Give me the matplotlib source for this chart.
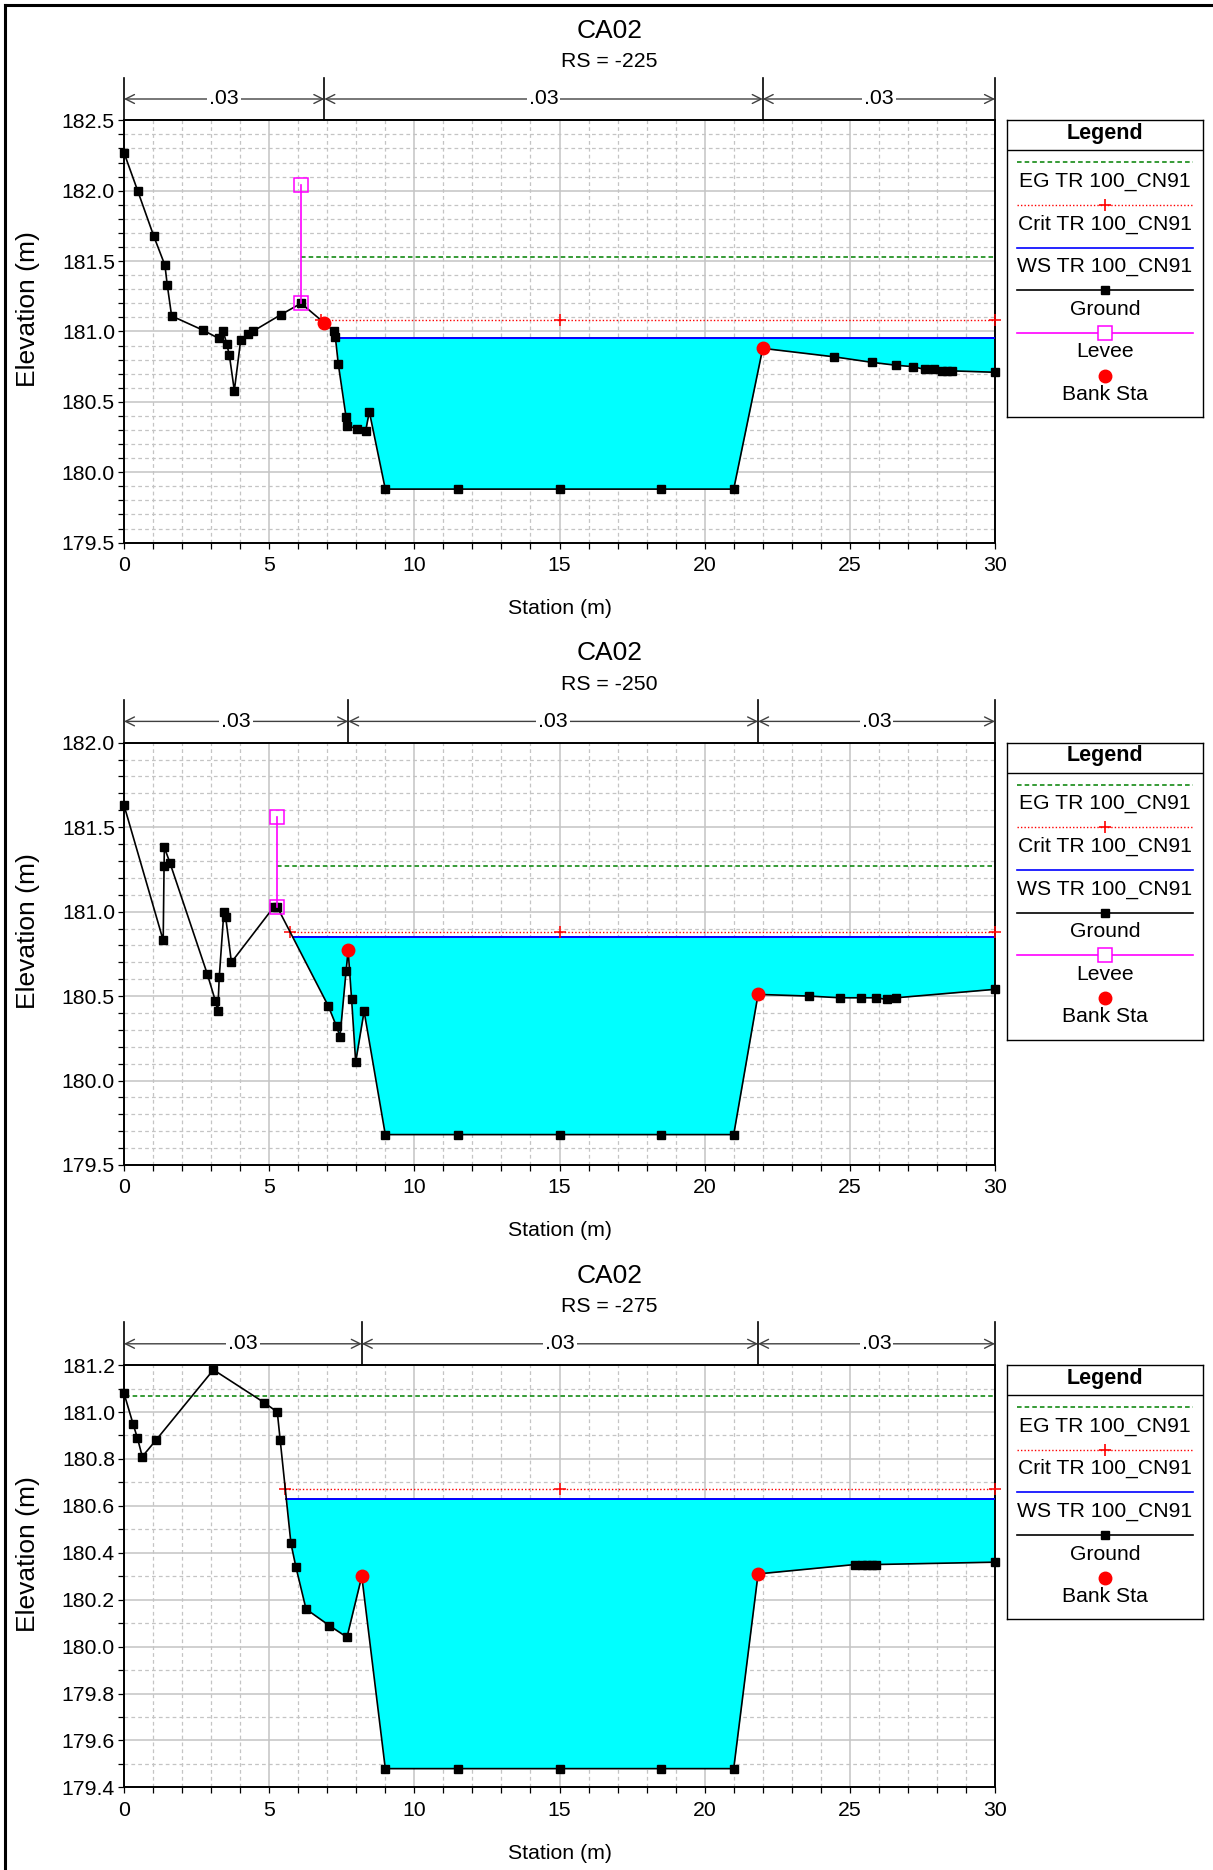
import numpy as np
import matplotlib
matplotlib.use('Agg')
import matplotlib.pyplot as plt
import matplotlib.transforms as mtrans
from matplotlib.lines import Line2D
from matplotlib.ticker import MultipleLocator, FormatStrFormatter

plt.rcParams['font.family'] = ['Liberation Sans', 'DejaVu Sans']

# --- dados das secoes ---
river = 'CA02'
rs_list = ['-225', '-250', '-275']
profile = 'TR 100_CN91'

sta_225 = [0, 0.47, 1.02, 1.41, 1.49, 1.64, 2.71, 3.27, 3.42, 3.54, 3.63, 3.80, 4.02, 4.28,
           4.43, 5.41, 6.10, 6.90, 7.24, 7.28, 7.38, 7.65, 7.69, 8.01, 8.32, 8.45, 9.0, 11.5,
           15.0, 18.5, 21.0, 22.0, 24.45, 25.78, 26.59, 27.17, 27.59, 27.90, 28.17, 28.34,
           28.52, 30.0]
elev_225 = [182.27, 182.0, 181.68, 181.47, 181.33, 181.11, 181.01, 180.95, 181.0, 180.91,
            180.83, 180.58, 180.94, 180.98, 181.0, 181.12, 181.20, 181.06, 181.0, 180.96,
            180.77, 180.39, 180.33, 180.31, 180.29, 180.43, 179.88, 179.88, 179.88, 179.88,
            179.88, 180.88, 180.82, 180.78, 180.76, 180.75, 180.73, 180.73, 180.72, 180.72,
            180.72, 180.71]

sta_250 = [0, 1.35, 1.38, 1.39, 1.58, 2.87, 3.15, 3.23, 3.28, 3.44, 3.50, 3.70, 5.17, 5.27,
           7.04, 7.32, 7.44, 7.65, 7.72, 7.84, 7.98, 8.27, 9.0, 11.5, 15.0, 18.5, 21.0, 21.84,
           23.60, 24.66, 25.38, 25.89, 26.29, 26.60, 30.0]
elev_250 = [181.63, 180.83, 181.27, 181.38, 181.29, 180.63, 180.47, 180.41, 180.61, 181.0,
            180.97, 180.70, 181.03, 181.03, 180.44, 180.32, 180.26, 180.65, 180.77, 180.48,
            180.11, 180.41, 179.68, 179.68, 179.68, 179.68, 179.68, 180.51, 180.50, 180.49,
            180.49, 180.49, 180.48, 180.49, 180.54]

sta_275 = [0, 0.31, 0.46, 0.63, 1.10, 3.08, 4.83, 5.28, 5.38, 5.75, 5.92, 6.27, 7.07, 7.68,
           8.19, 9.0, 11.5, 15.0, 18.5, 21.0, 21.84, 25.18, 25.41, 25.58, 25.75, 25.90, 30.0]
elev_275 = [181.08, 180.95, 180.89, 180.81, 180.88, 181.18, 181.04, 181.0, 180.88, 180.44,
            180.34, 180.16, 180.09, 180.04, 180.30, 179.48, 179.48, 179.48, 179.48, 179.48,
            180.31, 180.35, 180.35, 180.35, 180.35, 180.35, 180.36]

bank_sta = [(6.90, 22.0), (7.72, 21.84), (8.19, 21.84)]
levee = [(6.10, 182.04), (5.27, 181.56), None]   # (estacao, topo)
ws_elev = [180.95, 180.85, 180.63]
crit_elev = [181.08, 180.88, 180.67]
eg_elev = [181.53, 181.27, 181.07]
n_values = [['.03', '.03', '.03']] * 3

y_lims = [(179.5, 182.5), (179.5, 182.0), (179.4, 181.2)]
y_major = [0.5, 0.5, 0.2]

stations = [sta_225, sta_250, sta_275]
elevations = [elev_225, elev_250, elev_275]

W, H = 1213, 1870
fig = plt.figure(figsize=(W / 100, H / 100), dpi=100)

# borda da figura (apenas esquerda e topo visiveis)
fig.add_artist(Line2D([4.5 / W, 4.5 / W], [0, 1 - 5 / H], color='black', lw=2.2,
                      transform=fig.transFigure))
fig.add_artist(Line2D([4.5 / W, 1], [1 - 5 / H, 1 - 5 / H], color='black', lw=2.2,
                      transform=fig.transFigure))

ax_left, ax_w, ax_h = 124, 871, 422.3
ax_tops = [120.3, 742.7, 1365.1]


def start_x(x, g, z, xmin):
    # primeira estacao >= xmin em que o terreno fica abaixo de z
    if np.interp(xmin, x, g) <= z:
        return xmin
    for i in range(len(x) - 1):
        if x[i + 1] <= xmin:
            continue
        if g[i] > z >= g[i + 1]:
            return x[i] + (x[i + 1] - x[i]) * (g[i] - z) / (g[i] - g[i + 1])
    return xmin


def draw_legend(top, with_levee):
    entries = ['EG', 'Crit', 'WS', 'Ground'] + (['Levee'] if with_levee else []) + ['Bank']
    step = 42.66
    h = 41 + len(entries) * step
    lax = fig.add_axes([1007 / W, 1 - (top + h) / H, 196 / W, h / H])
    lax.set_xlim(0, 196)
    lax.set_ylim(h, 0)
    lax.set_xticks([])
    lax.set_yticks([])
    for s in lax.spines.values():
        s.set_linewidth(1.0)
    lax.axhline(30, color='black', lw=1.0)
    lax.text(98, 13, 'Legend', ha='center', va='center', fontsize=15.5, fontweight='bold')
    for k, e in enumerate(entries):
        ly = 42 + k * step
        ty = ly + 19
        if e == 'EG':
            lax.plot([10, 186], [ly, ly], color='#008000', lw=1.1, ls=(0, (3, 2)))
            lab = 'EG ' + profile
        elif e == 'Crit':
            lax.plot([10, 186], [ly, ly], color='#ff0000', lw=1.0, ls=(0, (1, 1.5)))
            lax.plot([98], [ly], marker='+', color='#ff0000', ms=8, mew=1.2)
            lab = 'Crit ' + profile
        elif e == 'WS':
            lax.plot([10, 186], [ly, ly], color='#0000ff', lw=1.2)
            lab = 'WS ' + profile
        elif e == 'Ground':
            lax.plot([10, 186], [ly, ly], color='black', lw=1.2)
            lax.plot([98], [ly], marker='s', color='black', ms=6)
            lab = 'Ground'
        elif e == 'Levee':
            lax.plot([10, 186], [ly, ly], color='#ff00ff', lw=1.2)
            lax.plot([98], [ly], marker='s', mfc='white', mec='#ff00ff', ms=10, mew=1.1)
            lab = 'Levee'
        else:
            lax.plot([98], [ly], marker='o', color='#ff0000', ms=9)
            lab = 'Bank Sta'
        lax.text(98, ty, lab, ha='center', va='center', fontsize=15.2)


for p in range(3):
    x = np.array(stations[p], dtype=float)
    g = np.array(elevations[p], dtype=float)
    top = ax_tops[p]
    ax = fig.add_axes([ax_left / W, 1 - (top + ax_h) / H, ax_w / W, ax_h / H])
    y0, y1 = y_lims[p]
    ax.set_xlim(0, 30)
    ax.set_ylim(y0, y1)

    # grade
    ax.xaxis.set_major_locator(MultipleLocator(5))
    ax.xaxis.set_minor_locator(MultipleLocator(1))
    ax.yaxis.set_major_locator(MultipleLocator(y_major[p]))
    ax.yaxis.set_minor_locator(MultipleLocator(0.1))
    ax.yaxis.set_major_formatter(FormatStrFormatter('%.1f'))
    ax.grid(which='minor', color='#c4c4c4', lw=0.9, ls=(0, (3, 2.5)), zorder=0)
    ax.grid(which='major', color='#c4c4c4', lw=1.1, ls='-', zorder=0)
    ax.set_axisbelow(True)
    ax.tick_params(which='both', direction='out', length=4.5, width=0.9, labelsize=15.3,
                   color='black')
    ax.tick_params(axis='y', pad=2)
    ax.tick_params(axis='x', pad=5)
    for s in ax.spines.values():
        s.set_linewidth(1.4)
        s.set_color('black')

    xmin = levee[p][0] if levee[p] is not None else 0.0

    # agua
    xw = start_x(x, g, ws_elev[p], xmin)
    m = x > xw
    xs = np.concatenate([[xw], x[m]])
    gs = np.concatenate([[ws_elev[p]], g[m]])
    ax.fill_between(xs, gs, ws_elev[p], color='#00ffff', lw=0, zorder=2)
    ax.plot([xw, 30], [ws_elev[p], ws_elev[p]], color='#0000ff', lw=1.4, zorder=4)

    # critico
    xc = start_x(x, g, crit_elev[p], xmin)
    ax.plot([xc, 30], [crit_elev[p]] * 2, color='#ff0000', lw=1.0, ls=(0, (1, 1.5)), zorder=4,
            clip_on=False)
    ax.plot([xc, 15, 30], [crit_elev[p]] * 3, ls='none', marker='+', color='#ff0000',
            ms=8, mew=1.1, zorder=4, clip_on=False)

    # energia
    xe = start_x(x, g, eg_elev[p], xmin)
    ax.plot([xe, 30], [eg_elev[p]] * 2, color='#008000', lw=1.1, ls=(0, (3, 2)), zorder=4)

    # terreno
    ax.plot(x, g, color='black', lw=1.2, marker='s', ms=6.3, zorder=5, clip_on=False)

    # dique
    if levee[p] is not None:
        lx, lt = levee[p]
        lb = np.interp(lx, x, g)
        ax.plot([lx, lx], [lb, lt], color='#ff00ff', lw=1.2, zorder=6)
        ax.plot([lx, lx], [lb, lt], ls='none', marker='s', mfc='none', mec='#ff00ff',
                ms=10, mew=1.1, zorder=6)

    # margens
    bx = np.array(bank_sta[p])
    ax.plot(bx, np.interp(bx, x, g), ls='none', marker='o', color='#ff0000', ms=9, zorder=7)

    # n de manning
    trans = mtrans.blended_transform_factory(ax.transData, ax.transAxes)
    bounds = [0, bank_sta[p][0], bank_sta[p][1], 30]
    y_arr = 1 + 21.3 / ax_h
    y_vt = 1 + 42.6 / ax_h
    for b in bounds:
        ax.plot([b, b], [1, y_vt], color='black', lw=1.2, transform=trans, clip_on=False)
    for k in range(3):
        a, b = bounds[k], bounds[k + 1]
        ax.annotate('', xy=(b, y_arr), xytext=(a, y_arr), xycoords=trans, textcoords=trans,
                    arrowprops=dict(arrowstyle='<->', color='#404040', lw=1.0,
                                    shrinkA=0, shrinkB=0, mutation_scale=16),
                    annotation_clip=False)
        ax.text((a + b) / 2, y_arr, n_values[p][k], transform=trans, ha='center',
                va='center', fontsize=15.3,
                bbox=dict(facecolor='white', edgecolor='none', pad=1.5))

    ax.text(0.5, -66 / ax_h, 'Station (m)', transform=ax.transAxes, ha='center',
            va='center', fontsize=15.3)
    ax.text(-96.5 / ax_w, 0.553, 'Elevation (m)', transform=ax.transAxes, ha='center',
            va='center', rotation=90, fontsize=19)

    # titulos
    fig.text(609.5 / W, 1 - (top - 89.5) / H, river, ha='center', va='center', fontsize=19)
    fig.text(609.5 / W, 1 - (top - 58.5) / H, 'RS = ' + rs_list[p], ha='center',
             va='center', fontsize=15.3)

    draw_legend(top, levee[p] is not None)

fig.savefig('out.png', dpi=100)
